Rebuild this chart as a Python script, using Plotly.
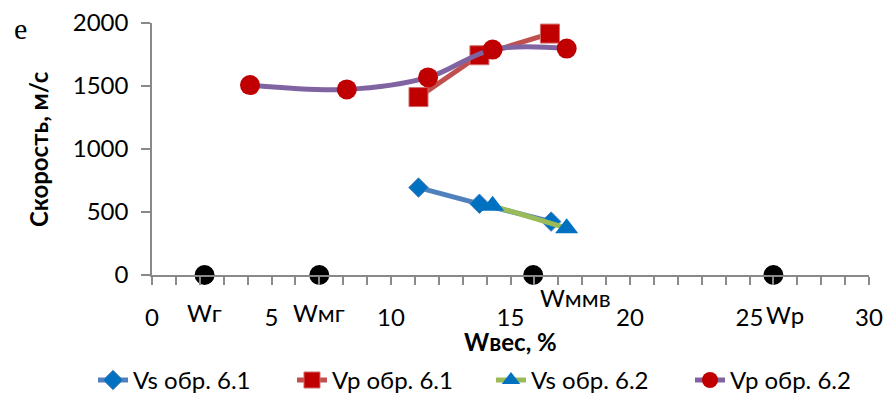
import plotly.graph_objects as go

# ---- data ----
vs61_x = [11.15, 13.7, 16.7]
vs61_y = [694, 565, 424]
vp61_x = [11.15, 13.7, 16.65]
vp61_y = [1412, 1744, 1916]
vs62_x = [14.25, 17.35]
vs62_y = [549, 372]
vp62_x = [4.1, 8.15, 11.55, 14.25, 17.35]
vp62_y = [1507, 1473, 1568, 1789, 1797]
w_x = [2.2, 7.0, 15.95, 26.0]
w_y = [0, 0, 0, 0]
w_labels = ["Wг", "Wмг", "Wммв", "Wр"]
series_names = ["Vs обр. 6.1", "Vp обр. 6.1", "Vs обр. 6.2", "Vp обр. 6.2"]
x_title = "Wвес, %"
y_title = "Скорость, м/с"
panel_label = "e"

FONT = "Lato"
fig = go.Figure()

fig.add_trace(go.Scatter(
    x=w_x, y=w_y, mode="markers", showlegend=False, cliponaxis=False,
    marker=dict(symbol="circle", size=20, color="black"), hoverinfo="skip"))

fig.add_trace(go.Scatter(
    x=vs61_x, y=vs61_y, name=series_names[0], mode="lines+markers", cliponaxis=False,
    line=dict(color="#4F81BD", width=5),
    marker=dict(symbol="diamond", size=15, color="#0070C0",
                line=dict(color="#4F81BD", width=1))))
fig.add_trace(go.Scatter(
    x=vp61_x, y=vp61_y, name=series_names[1], mode="lines+markers", cliponaxis=False,
    line=dict(color="#C0504D", width=5),
    marker=dict(symbol="square", size=19, color="#C00000",
                line=dict(color="#D06C6A", width=1))))
fig.add_trace(go.Scatter(
    x=vs62_x, y=vs62_y, name=series_names[2], mode="lines+markers", cliponaxis=False,
    line=dict(color="#9BBB59", width=5),
    marker=dict(symbol="triangle-up", size=20, color="#0070C0")))
fig.add_trace(go.Scatter(
    x=vp62_x, y=vp62_y, name=series_names[3], mode="lines+markers", cliponaxis=False,
    line=dict(color="#8064A2", width=5, shape="spline", smoothing=1),
    marker=dict(symbol="circle", size=20, color="#C00000")))

# data labels for the W points
label_shift = [(0, -37), (0, -37), (42, -22), (12, -39)]
for xv, yv, txt, (dx, dy) in zip(w_x, w_y, w_labels, label_shift):
    fig.add_annotation(x=xv, y=yv, xref="x", yref="y", text=txt, showarrow=False,
                       xshift=dx, yshift=dy, xanchor="center", yanchor="middle",
                       font=dict(family=FONT, size=24, color="black"))

fig.add_annotation(x=-0.184, y=0.98, xref="paper", yref="paper", text=panel_label,
                   showarrow=False, xanchor="center", yanchor="middle",
                   font=dict(family="Liberation Serif", size=30, color="black"))
# axis titles
fig.add_annotation(x=0.5, y=-0.262, xref="paper", yref="paper", text="<b>" + x_title + "</b>",
                   showarrow=False, xanchor="center", yanchor="middle",
                   font=dict(family=FONT, size=24, color="black"))
fig.add_annotation(x=-0.159, y=0.5, xref="paper", yref="paper", text="<b>" + y_title + "</b>",
                   showarrow=False, xanchor="center", yanchor="middle", textangle=-90,
                   font=dict(family=FONT, size=24, color="black"))

axis_color = "#898989"
fig.update_layout(
    width=890, height=395, autosize=False,
    margin=dict(l=152, r=21, t=23, b=120, autoexpand=False),
    plot_bgcolor="white", paper_bgcolor="white",
    font=dict(family=FONT, size=24, color="black"),
    showlegend=True,
    legend=dict(orientation="h", x=-0.0823, xanchor="left", y=-0.329, yanchor="top",
                entrywidth=154, entrywidthmode="pixels",
                font=dict(family=FONT, size=24, color="black"),
                bgcolor="rgba(0,0,0,0)"),
    xaxis=dict(range=[0, 30], dtick=5, tick0=0, showgrid=False, zeroline=False,
               showline=True, linecolor=axis_color, linewidth=1.5,
               ticks="outside", ticklen=8, tickcolor=axis_color, tickwidth=1.5,
               minor=dict(dtick=1, ticks="outside", ticklen=8, tickcolor=axis_color,
                          tickwidth=1.5, showgrid=False),
               ticklabelstandoff=12, automargin=False,
               tickfont=dict(family=FONT, size=24, color="black")),
    yaxis=dict(range=[0, 2000], dtick=500, tick0=0, showgrid=False, zeroline=False,
               showline=True, linecolor=axis_color, linewidth=1.5,
               ticks="outside", ticklen=9, tickcolor=axis_color, tickwidth=1.5,
               ticklabelstandoff=8, automargin=False,
               tickfont=dict(family=FONT, size=24, color="black")),
)

fig.write_html("out.html", config={"displayModeBar": False},
               post_script="document.body.style.margin='0';")
